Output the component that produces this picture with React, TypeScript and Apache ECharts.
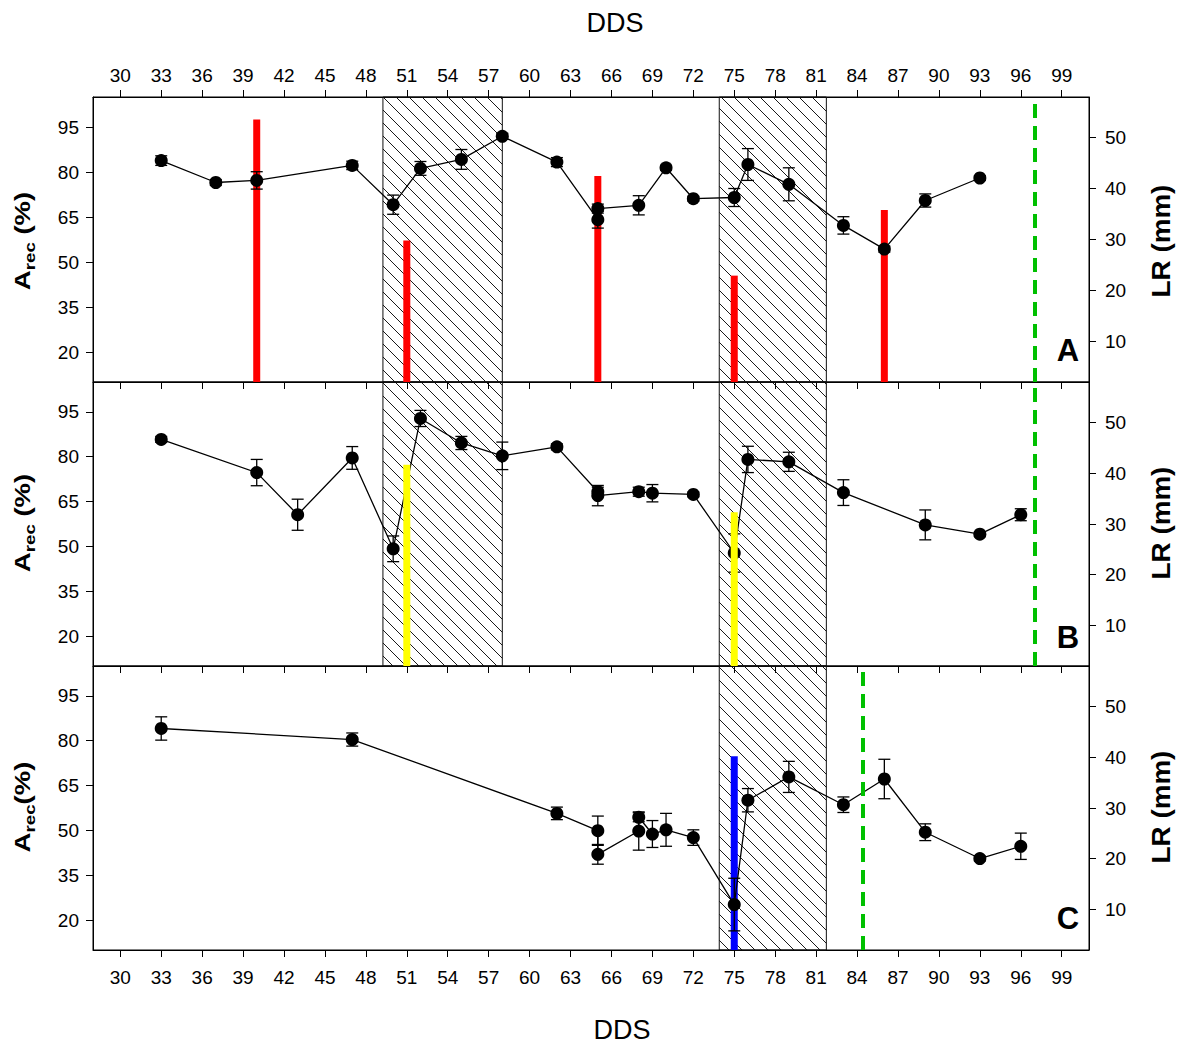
import React, { useEffect, useRef } from "react";
import * as echarts from "echarts";

// ---------- axis ticks ----------
const xTicks = [30, 33, 36, 39, 42, 45, 48, 51, 54, 57, 60, 63, 66, 69, 72, 75, 78, 81, 84, 87, 90, 93, 96, 99];
const arecTicks = [20, 35, 50, 65, 80, 95];
const lrTicks = [10, 20, 30, 40, 50];

// ---------- panel A ----------
const ddsA = [33, 37, 40, 47, 50, 52, 55, 58, 62, 65, 65, 68, 70, 72, 75, 76, 79, 83, 86, 89, 93];
const arecA = [83.8, 76.5, 77.2, 82.2, 69.1, 81.2, 84.2, 91.9, 83.3, 64.1, 67.8, 68.9, 81.4, 71.1, 71.5, 82.5, 75.9, 62.2, 54.3, 70.5, 78.0];
const errA = [1.6, 1.0, 2.9, 1.4, 3.2, 2.3, 3.3, 1.0, 1.5, 2.8, 1.5, 3.2, 0.8, 0.8, 3.0, 5.3, 5.5, 2.9, 1.0, 2.2, 0.8];
const barDdsA = [40, 51, 65, 75, 86];
const barLrA = [53.6, 29.8, 42.5, 22.9, 35.8];
const hatchA = [[49.25, 58], [73.9, 81.75]];
const greenA = 97;

// ---------- panel B ----------
const ddsB = [33, 40, 43, 47, 50, 52, 55, 58, 62, 65, 65, 68, 69, 72, 75, 76, 79, 83, 89, 93, 96];
const arecB = [85.8, 74.7, 60.6, 79.6, 49.2, 92.8, 84.6, 80.3, 83.3, 68.3, 67.0, 68.3, 67.8, 67.4, 47.8, 79.1, 78.3, 68.0, 57.2, 54.1, 60.6];
const errB = [1.0, 4.4, 5.2, 3.8, 4.3, 2.7, 2.2, 4.6, 1.0, 1.5, 3.4, 1.5, 2.9, 0.8, 6.4, 4.4, 3.2, 4.3, 5.0, 0.8, 2.0];
const barDdsB = [51, 75];
const barLrB = [41.7, 32.3];
const hatchB = [[49.25, 58], [73.9, 81.75]];
const greenB = 97;

// ---------- panel C ----------
const ddsC = [33, 47, 62, 65, 65, 68, 68, 69, 70, 72, 75, 76, 79, 83, 86, 89, 93, 96];
const arecC = [84.1, 80.4, 55.7, 49.9, 42.0, 49.8, 54.4, 48.8, 50.2, 47.6, 25.2, 60.1, 67.9, 58.6, 67.2, 49.4, 40.6, 44.7];
const errC = [3.9, 2.2, 2.1, 4.9, 3.3, 6.4, 1.5, 4.5, 5.5, 2.6, 8.8, 3.9, 5.2, 2.6, 6.6, 2.8, 0.8, 4.4];
const barDdsC = [75];
const barLrC = [40.2];
const hatchC = [[73.9, 81.75]];
const greenC = 84.4;

const panelLetters = ["A", "B", "C"];

const FONT = "'Liberation Sans', Arial, Helvetica, sans-serif";

type Panel = {
  dds: number[];
  arec: number[];
  err: number[];
  barDds: number[];
  barLr: number[];
  barColor: string;
  barsOnTop: boolean;
  hatch: number[][];
  green: number;
};

const panels: Panel[] = [
  { dds: ddsA, arec: arecA, err: errA, barDds: barDdsA, barLr: barLrA, barColor: "#ff0000", barsOnTop: false, hatch: hatchA, green: greenA },
  { dds: ddsB, arec: arecB, err: errB, barDds: barDdsB, barLr: barLrB, barColor: "#ffff00", barsOnTop: true, hatch: hatchB, green: greenB },
  { dds: ddsC, arec: arecC, err: errC, barDds: barDdsC, barLr: barLrC, barColor: "#0000ff", barsOnTop: false, hatch: hatchC, green: greenC },
];

const gridTops = [97, 382, 666];
const gridHeights = [285, 284, 284];
const GRID_LEFT = 93;
const GRID_WIDTH = 996;

function buildOption() {
  const grid = gridTops.map((t, i) => ({
    left: GRID_LEFT,
    top: t,
    width: GRID_WIDTH,
    height: gridHeights[i],
    show: true,
    borderColor: "#000",
    borderWidth: 1,
    backgroundColor: "transparent",
    containLabel: false,
  }));

  const xBase = (gridIndex: number, position: string, showLabel: boolean, margin: number) => ({
    type: "value",
    gridIndex,
    position,
    min: 28,
    max: 101,
    axisLine: { show: true, onZero: false, lineStyle: { color: "#000", width: 1 } },
    axisTick: { show: true, inside: false, length: 7, customValues: xTicks, lineStyle: { color: "#000", width: 1 } },
    axisLabel: { show: showLabel, customValues: xTicks, margin, fontSize: 19, color: "#000", fontFamily: FONT },
    splitLine: { show: false },
  });

  const xAxis = [
    xBase(0, "top", true, 12),
    xBase(0, "bottom", false, 8),
    xBase(1, "bottom", false, 8),
    xBase(2, "bottom", true, 18),
  ];
  const xIndexForPanel = [0, 2, 3];

  const yAxis: any[] = [];
  for (let g = 0; g < 3; g++) {
    yAxis.push({
      type: "value",
      gridIndex: g,
      position: "left",
      min: 10,
      max: 105,
      axisLine: { show: true, onZero: false, lineStyle: { color: "#000", width: 1 } },
      axisTick: { show: true, length: 7, customValues: arecTicks, lineStyle: { color: "#000" } },
      axisLabel: { customValues: arecTicks, margin: 14, fontSize: 19, color: "#000", fontFamily: FONT },
      splitLine: { show: false },
    });
    yAxis.push({
      type: "value",
      gridIndex: g,
      position: "right",
      min: 2,
      max: 58,
      axisLine: { show: true, onZero: false, lineStyle: { color: "#000", width: 1 } },
      axisTick: { show: true, length: 7, customValues: lrTicks, lineStyle: { color: "#000" } },
      axisLabel: { customValues: lrTicks, margin: 16, fontSize: 19, color: "#000", fontFamily: FONT },
      splitLine: { show: false },
    });
  }

  const series: any[] = [];
  panels.forEach((p, g) => {
    const xi = xIndexForPanel[g];
    const yl = 2 * g;
    const yr = 2 * g + 1;

    // hatched windows
    series.push({
      type: "custom",
      xAxisIndex: xi,
      yAxisIndex: yl,
      z: 1,
      silent: true,
      clip: false,
      dimensions: ["x0", "x1"],
      encode: { x: [0, 1] },
      data: p.hatch,
      renderItem: (params: any, api: any) => {
        const cs = params.coordSys;
        const L = api.coord([api.value(0), 50])[0];
        const R = api.coord([api.value(1), 50])[0];
        const T = cs.y;
        const B = cs.y + cs.height;
        const step = 13;
        const children: any[] = [];
        for (let c = Math.ceil((L - B) / step) * step; c <= R - T; c += step) {
          const ya = Math.max(T, L - c);
          const yb = Math.min(B, R - c);
          if (yb <= ya) continue;
          children.push({
            type: "line",
            shape: { x1: ya + c, y1: ya, x2: yb + c, y2: yb },
            style: { stroke: "#000", lineWidth: 0.9 },
          });
        }
        children.push({
          type: "rect",
          shape: { x: L, y: T, width: R - L, height: B - T },
          style: { fill: "none", stroke: "#111", lineWidth: 1 },
        });
        return { type: "group", children };
      },
    });

    // LR bars
    series.push({
      type: "bar",
      xAxisIndex: xi,
      yAxisIndex: yr,
      z: p.barsOnTop ? 6 : 2,
      barWidth: 7,
      silent: true,
      itemStyle: { color: p.barColor },
      data: p.barDds.map((d, i) => [d, p.barLr[i]]),
    });

    // error bars
    series.push({
      type: "custom",
      xAxisIndex: xi,
      yAxisIndex: yl,
      z: 3,
      silent: true,
      encode: { x: 0, y: 1 },
      data: p.dds.map((d, i) => [d, p.arec[i], p.err[i]]),
      renderItem: (params: any, api: any) => {
        const x = api.value(0);
        const y = api.value(1);
        const e = api.value(2);
        const hi = api.coord([x, y + e]);
        const lo = api.coord([x, y - e]);
        const w = 6;
        const st = { stroke: "#000", lineWidth: 1.3 };
        return {
          type: "group",
          children: [
            { type: "line", shape: { x1: hi[0], y1: hi[1], x2: lo[0], y2: lo[1] }, style: st },
            { type: "line", shape: { x1: hi[0] - w, y1: hi[1], x2: hi[0] + w, y2: hi[1] }, style: st },
            { type: "line", shape: { x1: lo[0] - w, y1: lo[1], x2: lo[0] + w, y2: lo[1] }, style: st },
          ],
        };
      },
    });

    // A_rec line + points, with green dashed marker
    series.push({
      type: "line",
      xAxisIndex: xi,
      yAxisIndex: yl,
      z: 4,
      silent: true,
      symbol: "circle",
      symbolSize: 13,
      itemStyle: { color: "#000" },
      lineStyle: { color: "#000", width: 1.3 },
      data: p.dds.map((d, i) => [d, p.arec[i]]),
      markLine: {
        silent: true,
        symbol: ["none", "none"],
        label: { show: false },
        lineStyle: { color: "#00c000", type: [14, 8], width: 4 },
        data: [{ xAxis: p.green }],
      },
    });
  });

  const leftTitleY = [241, 523, 807];
  const graphic: any[] = [];
  leftTitleY.forEach((cy, i) => {
    graphic.push({
      type: "text",
      x: 24,
      y: cy,
      rotation: Math.PI / 2,
      scaleX: 1.25,
      style: {
        text: i === 2 ? "{a|A}{s|rec}{a|(%)}" : "{a|A}{s|rec}{a| (%)}",
        align: "center",
        verticalAlign: "middle",
        fill: "#000",
        rich: {
          a: { fontSize: 22, fontWeight: "bold", fontFamily: FONT, lineHeight: 25, verticalAlign: "top", fill: "#000" },
          s: { fontSize: 15, fontWeight: "bold", fontFamily: FONT, lineHeight: 16, padding: [11, 0, 0, 0], verticalAlign: "top", fill: "#000" },
        },
      },
    });
    graphic.push({
      type: "text",
      x: 1161,
      y: cy,
      rotation: Math.PI / 2,
      scaleX: 1.07,
      style: {
        text: "LR (mm)",
        align: "center",
        verticalAlign: "middle",
        fill: "#000",
        fontSize: 26,
        fontWeight: "bold",
        fontFamily: FONT,
      },
    });
  });
  const letterY = [350, 637, 918];
  letterY.forEach((cy, i) => {
    graphic.push({
      type: "text",
      x: 1068,
      y: cy,
      style: {
        text: panelLetters[i],
        align: "center",
        verticalAlign: "middle",
        fill: "#000",
        fontSize: 31,
        fontWeight: "bold",
        fontFamily: FONT,
      },
    });
  });
  graphic.push({
    type: "text",
    x: 615,
    y: 23,
    style: { text: "DDS", align: "center", verticalAlign: "middle", fill: "#000", fontSize: 27, fontFamily: FONT },
  });
  graphic.push({
    type: "text",
    x: 622,
    y: 1030,
    style: { text: "DDS", align: "center", verticalAlign: "middle", fill: "#000", fontSize: 27, fontFamily: FONT },
  });

  return {
    animation: false,
    backgroundColor: "#fff",
    textStyle: { fontFamily: FONT },
    grid,
    xAxis,
    yAxis,
    series,
    graphic,
  };
}

export default function App() {
  const ref = useRef<HTMLDivElement>(null);
  useEffect(() => {
    if (!ref.current) return;
    const chart = echarts.init(ref.current, undefined, { renderer: "svg" });
    chart.setOption(buildOption() as any);
    return () => chart.dispose();
  }, []);
  return (
    <div
      ref={ref}
      style={{ position: "fixed", left: 0, top: 0, width: 1184, height: 1046, background: "#fff" }}
    />
  );
}
